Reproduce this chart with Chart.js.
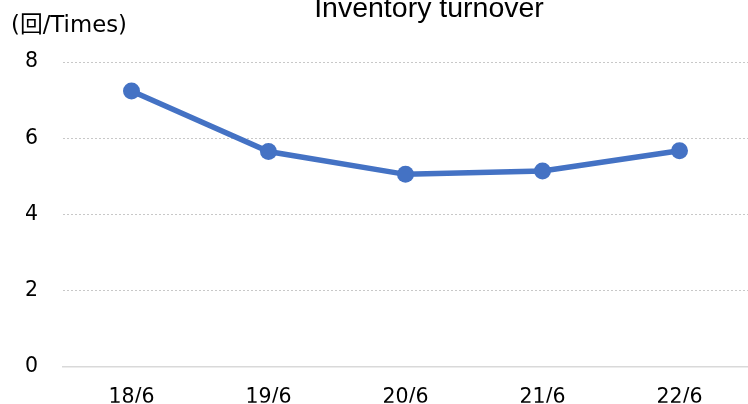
<!DOCTYPE html>
<html>
<head>
<meta charset="utf-8">
<script src="https://cdn.jsdelivr.net/npm/chart.js@4/dist/chart.umd.min.js"></script>
<style>
  html, body { margin: 0; padding: 0; background: #fff; overflow: hidden; }
  #wrap { width: 748px; height: 404px; position: relative; }
</style>
</head>
<body>
<div id="wrap"><canvas id="turnoverChart"></canvas></div>
<script>
// --- chart data ---
const periods = ['18/6', '19/6', '20/6', '21/6', '22/6'];
const turnover = [7.24, 5.65, 5.05, 5.14, 5.67];
const yTicks = [0, 2, 4, 6, 8];
const chartTitle = 'Inventory turnover';
const unitLabel = '(回/Times)';

const tickFont = { family: '"DejaVu Sans", Verdana, "Noto Sans CJK JP", sans-serif', size: 20.5 };

// draws the cut-off title and the unit label at the top
const headerText = {
    id: 'headerText',
    afterDraw(chart) {
        const ctx = chart.ctx;
        ctx.save();
        ctx.fillStyle = '#000';
        ctx.textBaseline = 'alphabetic';
        ctx.font = '28.5px "Liberation Sans", Arial, sans-serif';
        ctx.textAlign = 'center';
        ctx.fillText(chartTitle, 429, 17);
        ctx.font = '22.8px "DejaVu Sans", Verdana, "Noto Sans CJK JP", sans-serif';
        ctx.textAlign = 'left';
        ctx.fillText(unitLabel, 11, 32);
        ctx.restore();
    }
};

const ctx = document.getElementById('turnoverChart').getContext('2d');
new Chart(ctx, {
    type: 'line',
    data: {
        labels: periods,
        datasets: [{
            label: chartTitle,
            data: turnover,
            borderColor: '#4472C4',
            backgroundColor: '#4472C4',
            borderWidth: 5.5,
            pointRadius: 8.5,
            pointHoverRadius: 8.5,
            pointBorderWidth: 0,
            tension: 0,
        }],
    },
    options: {
        responsive: true,
        maintainAspectRatio: false,
        animation: false,
        layout: { autoPadding: false, padding: { top: 62, right: 0, bottom: 0, left: 0 } },
        plugins: { legend: { display: false }, title: { display: false }, tooltip: { enabled: false } },
        scales: {
            x: {
                offset: true,
                grid: { display: false, drawTicks: false },
                border: { display: true, color: '#d9d9d9', width: 1.5 },
                ticks: { color: '#000', font: tickFont, padding: 19 },
                afterFit: s => { s.height = 36; s.paddingLeft = 0; s.paddingRight = 0; },
            },
            y: {
                min: 0,
                max: 8,
                afterBuildTicks: s => { s.ticks = yTicks.map(v => ({ value: v })); },
                grid: { color: '#c8c8c8', lineWidth: 1, drawTicks: false },
                border: { display: false, dash: [2, 2] },
                ticks: { color: '#000', font: tickFont, padding: 25 },
                afterFit: s => { s.width = 63; },
            },
        },
    },
    plugins: [headerText],
});
</script>
</body>
</html>
